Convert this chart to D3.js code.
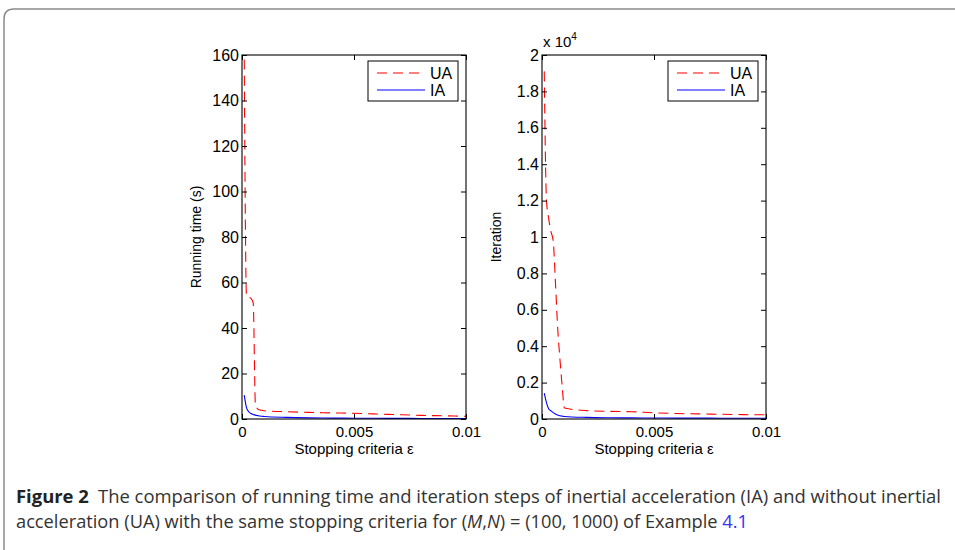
<!DOCTYPE html>
<html>
<head>
<meta charset="utf-8">
<script src="https://cdn.jsdelivr.net/npm/d3@7"></script>
<style>
  body { margin: 0; background: #fff; }
  svg { display: block; }
  .axis text { font-family: "Liberation Sans", Arial, sans-serif; font-size: 16px; fill: #000; }
  .axis line { stroke: #000; }
  .axis path { display: none; }
  .xaxis text { font-size: 15px; }
  .lbl { font-family: "Liberation Sans", Arial, sans-serif; font-size: 16px; fill: #000; }
  .cap { font-family: "Open Sans", sans-serif; font-size: 18px; fill: #333; }
</style>
</head>
<body>
<script>
// stopping criteria (x values)
var eps = [0.0001, 0.0002, 0.0003, 0.0004, 0.0005, 0.0006, 0.0007, 0.0008, 0.0009, 0.001,
           0.002, 0.003, 0.004, 0.005, 0.006, 0.007, 0.008, 0.009, 0.01];

// running time (s)
var timeUA = [158, 54, 53.5, 53, 51, 6, 4.5, 4, 3.8, 3.6, 3.2, 2.9, 2.7, 2.5, 2.2, 1.9, 1.6, 1.4, 1.2];
var timeIA = [10.5, 5, 3.2, 2.4, 2, 1.7, 1.5, 1.3, 1.2, 1.1, 0.7, 0.5, 0.4, 0.35, 0.3, 0.28, 0.25, 0.22, 0.2];

// iterations
var iterUA = [19100, 12000, 11000, 10300, 9800, 7500, 5000, 3300, 1800, 600, 460, 420, 400, 340, 300, 280, 260, 240, 230];
var iterIA = [1420, 900, 550, 450, 350, 280, 220, 180, 160, 140, 90, 70, 60, 55, 50, 47, 45, 42, 40];

var epsTicks = [0, 0.005, 0.01];
var timeTicks = [0, 20, 40, 60, 80, 100, 120, 140, 160];
var iterTicks = [0, 2000, 4000, 6000, 8000, 10000, 12000, 14000, 16000, 18000, 20000];

var seriesNames = ["UA", "IA"];

var W = 955, H = 550;
var pw = 224, ph = 364;

var svg = d3.select("body").append("svg")
    .attr("width", W)
    .attr("height", H);

// card border
svg.append("path")
    .attr("d", "M4,560 V19 Q4,9 14,9 H960")
    .attr("fill", "none")
    .attr("stroke", "#8a8a8a")
    .attr("stroke-width", 1.5);

function panel(left, top, ys, yMax, yTicks, yFmt, yLabel) {
    var g = svg.append("g")
        .attr("transform", "translate(" + left + "," + top + ")");

    var x = d3.scaleLinear().domain([0, 0.01]).range([0, pw]);
    var y = d3.scaleLinear().domain([0, yMax]).range([ph, 0]);

    g.append("rect")
        .attr("width", pw)
        .attr("height", ph)
        .attr("fill", "#fff");

    var line = d3.line()
        .curve(d3.curveMonotoneX)
        .x(function(d, i) { return x(eps[i]); })
        .y(function(d) { return y(d); });

    g.append("path")
        .attr("d", line(ys[0]))
        .attr("fill", "none")
        .attr("stroke", "#ff0000")
        .attr("stroke-width", 1.1)
        .attr("stroke-dasharray", "10,6");

    g.append("path")
        .attr("d", line(ys[1]))
        .attr("fill", "none")
        .attr("stroke", "#0000ff")
        .attr("stroke-width", 1.1);

    g.append("g").attr("class", "axis xaxis")
        .attr("transform", "translate(0," + ph + ")")
        .call(d3.axisBottom(x).tickValues(epsTicks).tickSize(-5).tickPadding(7)
            .tickFormat(function(d) { return d === 0 ? "0" : String(+d.toFixed(3)); }));
    g.append("g").attr("class", "axis")
        .call(d3.axisTop(x).tickValues(epsTicks).tickSize(-5).tickFormat(""));
    g.append("g").attr("class", "axis")
        .call(d3.axisLeft(y).tickValues(yTicks).tickSize(-5).tickPadding(3).tickFormat(yFmt));
    g.append("g").attr("class", "axis")
        .attr("transform", "translate(" + pw + ",0)")
        .call(d3.axisRight(y).tickValues(yTicks).tickSize(-5).tickFormat(""));

    g.append("rect")
        .attr("width", pw)
        .attr("height", ph)
        .attr("fill", "none")
        .attr("stroke", "#000")
        .attr("stroke-width", 1.1);

    g.append("text").attr("class", "lbl")
        .attr("x", pw / 2)
        .attr("y", ph + 35)
        .attr("text-anchor", "middle")
        .style("font-size", "15px")
        .text("Stopping criteria ε");

    g.append("text").attr("class", "lbl")
        .attr("transform", "translate(" + (-41) + "," + (ph / 2) + ") rotate(-90)")
        .attr("text-anchor", "middle")
        .style("font-size", "14px")
        .text(yLabel);

    // legend
    var lg = g.append("g").attr("transform", "translate(" + (pw - 98) + ",6)");
    lg.append("rect")
        .attr("width", 90)
        .attr("height", 40)
        .attr("fill", "#fff")
        .attr("stroke", "#000")
        .attr("stroke-width", 1);
    seriesNames.forEach(function(name, i) {
        var yy = 12 + i * 17;
        lg.append("line")
            .attr("x1", 9).attr("x2", 57)
            .attr("y1", yy).attr("y2", yy)
            .attr("stroke", i === 0 ? "#ff0000" : "#0000ff")
            .attr("stroke-width", 1.1)
            .attr("stroke-dasharray", i === 0 ? "10,6" : null);
        lg.append("text").attr("class", "lbl")
            .attr("x", 62)
            .attr("y", yy + 6)
            .text(name);
    });
    return g;
}

panel(242, 55, [timeUA, timeIA], 160, timeTicks, d3.format("d"), "Running time (s)");
var p2 = panel(542, 55, [iterUA, iterIA], 20000, iterTicks,
    function(d) { return String(+(d / 1e4).toFixed(1)); }, "Iteration");

var ex = p2.append("text").attr("class", "lbl")
    .attr("x", 1)
    .attr("y", -8)
    .style("font-size", "15px");
ex.append("tspan").text("x 10");
ex.append("tspan").attr("dy", -7).style("font-size", "10px").text("4");

// caption
var c1 = svg.append("text").attr("class", "cap")
    .attr("x", 16).attr("y", 503)
    .attr("textLength", 925)
    .attr("lengthAdjust", "spacingAndGlyphs");
c1.append("tspan").attr("font-weight", "bold").attr("fill", "#222").text("Figure 2");
c1.append("tspan").text("\u2002The comparison of running time and iteration steps of inertial acceleration (IA) and without inertial");

var c2 = svg.append("text").attr("class", "cap")
    .attr("x", 16).attr("y", 528)
    .attr("textLength", 732)
    .attr("lengthAdjust", "spacingAndGlyphs");
c2.append("tspan").text("acceleration (UA) with the same stopping criteria for (");
c2.append("tspan").attr("font-style", "italic").text("M");
c2.append("tspan").text(",");
c2.append("tspan").attr("font-style", "italic").text("N");
c2.append("tspan").text(") = (100, 1000) of Example ");
c2.append("tspan").attr("fill", "#3333ee").text("4.1");
</script>
</body>
</html>
